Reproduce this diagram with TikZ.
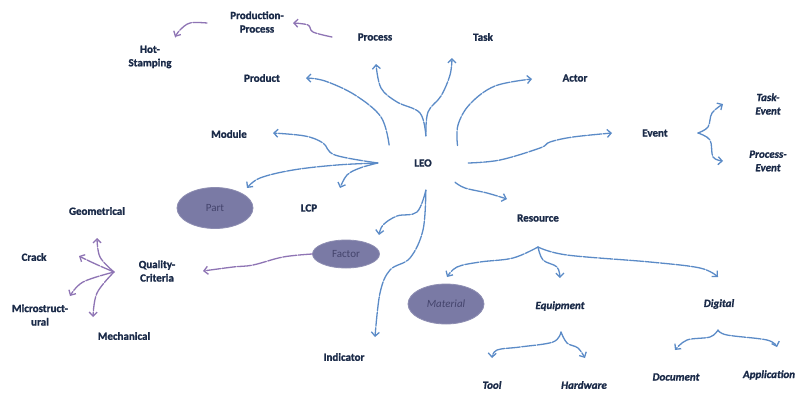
\documentclass[tikz,border=0pt]{standalone}
\usepackage{fontspec}
\setmainfont{Carlito}
\newfontfamily\lblfont[UprightFont={* Bold}, ItalicFont={* Bold Italic}, FakeBold=1.2]{Carlito}
\usetikzlibrary{arrows.meta,shapes.geometric}
\definecolor{lblue}{HTML}{5B8BC7}
\definecolor{lpurp}{HTML}{8E74B4}
\definecolor{txt}{HTML}{1A2A48}
\definecolor{ellfill}{HTML}{7A7AA5}
\definecolor{elltxt}{HTML}{44446C}
\begin{document}
\begin{tikzpicture}[x=1pt,y=-1pt,
  lbl/.style={font=\fontsize{11}{13.5}\selectfont\lblfont, text=txt, align=center, inner sep=1pt},
  ilbl/.style={lbl, font=\fontsize{11}{13.5}\selectfont\lblfont\itshape},
  oval/.style={ellipse, fill=ellfill, draw=ellfill!85!white, line width=0.8pt, text=elltxt, inner sep=0pt, font=\fontsize{11}{13.5}\selectfont},
  conn/.style={line width=1.3pt, dash pattern=on 14pt off 1.5pt, line cap=round, -{Straight Barb[length=4pt,width=8pt]}},
  bconn/.style={conn, draw=lblue},
  pconn/.style={conn, draw=lpurp},
]
\useasboundingbox[fill=white] (0,0) rectangle (800,394);

% nodes
\node[ellipse, minimum width=90pt, minimum height=54pt, inner sep=0pt] (leoarea) at (423,163) {};
\node[lbl] (leo) at (423,163) {LEO};
\node[lbl] (prodproc) at (257,22) {Production-\\Process};
\node[lbl] (hot) at (150,57) {Hot-\\Stamping};
\node[lbl] (process) at (375,37) {Process};
\node[lbl] (task) at (483,37) {Task};
\node[lbl] (product) at (262,78) {Product};
\node[lbl] (actor) at (575,78) {Actor};
\node[lbl] (module) at (229,134) {Module};
\node[lbl] (event) at (655,133) {Event};
\node[ilbl] (taskev) at (768,104) {Task-\\Event};
\node[ilbl] (procev) at (768,161) {Process-\\Event};
\node[oval, minimum width=76pt, minimum height=41pt] (part) at (215,208) {Part};
\node[lbl] (lcp) at (309,208) {LCP};
\node[lbl] (resource) at (538,218) {Resource};
\node[lbl] (geom) at (97,211) {Geometrical};
\node[lbl] (crack) at (34,257) {Crack};
\node[lbl] (quality) at (157,271) {Quality-\\Criteria};
\node[oval, minimum width=67pt, minimum height=28pt] (factor) at (346,254) {Factor};
\node[lbl] (micro) at (40,315) {Microstruct-\\ural};
\node[lbl] (mech) at (124,336) {Mechanical};
\node[oval, minimum width=76pt, minimum height=40pt, font=\fontsize{11}{13.5}\selectfont\itshape] (material) at (446,304) {Material};
\node[ilbl] (equip) at (560,306) {Equipment};
\node[ilbl] (digital) at (719,304) {Digital};
\node[lbl] (indicator) at (344,357) {Indicator};
\node[ilbl] (tool) at (492,385) {Tool};
\node[ilbl] (hardware) at (584,385) {Hardware};
\node[ilbl] (document) at (676,377) {Document};
\node[ilbl] (application) at (769,375) {Application};

% branch points and arrow ends
\coordinate (ressplit) at (538,247);
\coordinate (eqsplit) at (561,332);
\coordinate (digsplit) at (718,330);
\coordinate (evsplit) at (698,133);
\coordinate (qcsplit) at (114,272);
\coordinate (procOut) at (332,37);
\coordinate (prodprocOut) at (207,23);
\coordinate (productIn) at (306,78);
\coordinate (processIn) at (376,64);
\coordinate (taskIn) at (452,58);
\coordinate (actorIn) at (532,79);
\coordinate (eventIn) at (612,133);
\coordinate (resourceIn) at (507,199);
\coordinate (moduleIn) at (273,133);
\coordinate (partIn) at (247,188);
\coordinate (lcpIn) at (340,188);
\coordinate (factorIn) at (379,235);
\coordinate (indicatorIn) at (375,337);
\coordinate (materialIn) at (447,277);
\coordinate (equipIn) at (560,278);
\coordinate (digitalIn) at (718,277);
\coordinate (toolIn) at (492,358);
\coordinate (hardwareIn) at (585,358);
\coordinate (documentIn) at (675,350);
\coordinate (applicationIn) at (777,347);
\coordinate (taskevIn) at (723,104);
\coordinate (procevIn) at (723,161);
\coordinate (prodprocIn) at (293,23);
\coordinate (hotIn) at (175,37);
\coordinate (qualityIn) at (203,271);
\coordinate (geomIn) at (97,238);
\coordinate (crackIn) at (79,256);
\coordinate (microIn) at (70,296);
\coordinate (mechIn) at (93,317);

% blue connectors from LEO
\draw[bconn] plot[smooth, tension=0.6] coordinates {(leoarea.152) (381,117) (355,95) (325,81) (productIn)};
\draw[bconn] plot[smooth, tension=0.6] coordinates {(leoarea.84) (420,113) (397,102) (381,88) (processIn)};
\draw[bconn] plot[smooth, tension=0.6] coordinates {(leoarea.84) (428,112) (441,96) (450,75) (taskIn)};
\draw[bconn] plot[smooth, tension=0.6] coordinates {(leoarea.27) (458,125) (470,104) (495,86) (actorIn)};
\draw[bconn] plot[smooth, tension=0.6] coordinates {(leoarea.0) (500,160) (540,148) (550,142) (573,137) (eventIn)};
\draw[bconn] plot[smooth, tension=0.6] coordinates {(leoarea.-31) (465,188) (487,193) (resourceIn)};
\draw[bconn] plot[smooth, tension=0.6] coordinates {(leoarea.180) (335,155) (323,143) (305,136) (moduleIn)};
\draw[bconn] plot[smooth, tension=0.6] coordinates {(leoarea.180) (337,165) (293,170) (260,178) (partIn)};
\draw[bconn] plot[smooth, tension=0.6] coordinates {(leoarea.180) (360,168) (347,175) (lcpIn)};
\draw[bconn] plot[smooth, tension=0.6] coordinates {(leoarea.-84) (417,212) (397,216) (383,225) (factorIn)};
\draw[bconn] plot[smooth, tension=0.6] coordinates {(leoarea.-84) (423,230) (410,258) (390,270) (380,293) (indicatorIn)};

% Resource sub-tree
\draw[bconn] plot[smooth, tension=0.6] coordinates {(ressplit) (513,258) (480,262) (457,267) (materialIn)};
\draw[bconn] plot[smooth, tension=0.6] coordinates {(ressplit) (543,260) (557,267) (equipIn)};
\draw[bconn] plot[smooth, tension=0.6] coordinates {(ressplit) (567,255) (650,262) (700,268) (digitalIn)};
\draw[bconn] plot[smooth, tension=0.6] coordinates {(eqsplit) (553,342) (520,347) (497,350) (toolIn)};
\draw[bconn] plot[smooth, tension=0.6] coordinates {(eqsplit) (567,343) (578,348) (hardwareIn)};
\draw[bconn] plot[smooth, tension=0.6] coordinates {(digsplit) (710,337) (687,340) (documentIn)};
\draw[bconn] plot[smooth, tension=0.6] coordinates {(digsplit) (727,335) (767,340) (applicationIn)};

% Event sub-tree
\draw[bconn] plot[smooth, tension=0.6] coordinates {(evsplit) (708,127) (712,113) (taskevIn)};
\draw[bconn] plot[smooth, tension=0.6] coordinates {(evsplit) (710,140) (713,157) (procevIn)};

% purple connectors
\draw[pconn] plot[smooth, tension=0.6] coordinates {(procOut) (313,32) (308,25) (prodprocIn)};
\draw[pconn] plot[smooth, tension=0.6] coordinates {(prodprocOut) (190,23) (180,30) (hotIn)};
\draw[pconn] plot[smooth, tension=0.6] coordinates {(factor.west) (283,257) (253,265) (233,267) (qualityIn)};
\draw[pconn] plot[smooth, tension=0.6] coordinates {(qcsplit) (100,257) (geomIn)};
\draw[pconn] plot[smooth, tension=0.6] coordinates {(qcsplit) (100,266) (87,260) (crackIn)};
\draw[pconn] plot[smooth, tension=0.6] coordinates {(qcsplit) (83,282) (microIn)};
\draw[pconn] plot[smooth, tension=0.6] coordinates {(qcsplit) (97,293) (mechIn)};
\end{tikzpicture}
\end{document}
